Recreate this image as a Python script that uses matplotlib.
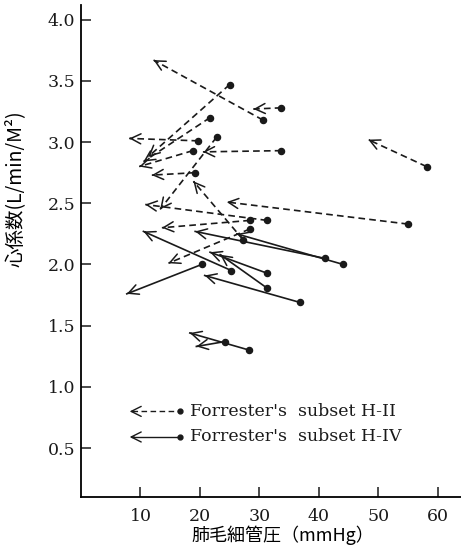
import numpy as np
import matplotlib
matplotlib.use('Agg')
import matplotlib.pyplot as plt
from matplotlib.patches import FancyArrowPatch

plt.rcParams['font.family'] = ['DejaVu Serif']

# Forrester's subset H-II (dashed): start point (dot) -> end point (arrow)
h2_x0 = [30.6, 25.0, 21.7, 18.8, 19.7, 22.8, 33.7, 33.7, 19.2, 58.1, 55.0, 31.3, 28.4, 28.4, 27.3]
h2_y0 = [3.18, 3.47, 3.20, 2.93, 3.01, 3.04, 2.93, 3.28, 2.75, 2.80, 2.33, 2.36, 2.36, 2.29, 2.20]
h2_x1 = [12.2, 11.3, 10.5, 9.8, 8.1, 13.3, 20.5, 29.0, 11.9, 48.3, 24.5, 10.8, 13.6, 14.7, 18.9]
h2_y1 = [3.67, 2.88, 2.84, 2.80, 3.03, 2.45, 2.92, 3.27, 2.73, 3.02, 2.51, 2.49, 2.30, 2.01, 2.68]

# Forrester's subset H-IV (solid)
h4_x0 = [41.0, 44.1, 25.3, 20.3, 31.2, 31.2, 36.8, 28.3, 24.2]
h4_y0 = [2.05, 2.00, 1.95, 2.00, 1.93, 1.81, 1.69, 1.30, 1.37]
h4_x1 = [19.2, 26.2, 10.5, 7.7, 21.7, 23.4, 20.8, 18.3, 19.4]
h4_y1 = [2.27, 2.25, 2.27, 1.76, 2.10, 2.08, 1.91, 1.44, 1.33]

yticks = [0.5, 1.0, 1.5, 2.0, 2.5, 3.0, 3.5, 4.0]
xticks = [10, 20, 30, 40, 50, 60]

fig = plt.figure(figsize=(4.61, 5.51), dpi=100)
ax = fig.add_axes([81/461, 54/551, 380/461, 492/551])
ax.set_xlim(0, 63.9)
ax.set_ylim(0.10, 4.12)

dash = (0, (4, 2.5))


def arrow_head(x0, y0, x1, y1):
    # tiny solid segment at the end so only the open head shows
    xa = x1 + (x0 - x1) * 0.02
    ya = y1 + (y0 - y1) * 0.02
    p = FancyArrowPatch((xa, ya), (x1, y1), arrowstyle='->,head_length=0.6,head_width=0.3',
                        mutation_scale=12, color='#1a1a1a', lw=1.1, shrinkA=0, shrinkB=0)
    ax.add_patch(p)


for x0, y0, x1, y1 in zip(h2_x0, h2_y0, h2_x1, h2_y1):
    ax.plot([x0, x1], [y0, y1], color='#1a1a1a', lw=1.2, linestyle=dash)
    ax.plot(x0, y0, 'o', color='#1a1a1a', ms=4.4)
    arrow_head(x0, y0, x1, y1)

for x0, y0, x1, y1 in zip(h4_x0, h4_y0, h4_x1, h4_y1):
    ax.plot([x0, x1], [y0, y1], color='#1a1a1a', lw=1.2)
    ax.plot(x0, y0, 'o', color='#1a1a1a', ms=4.4)
    arrow_head(x0, y0, x1, y1)

# legend drawn by hand like the original
leg_rows = [(0.174, dash, "Forrester's  subset H-II"), (0.122, '-', "Forrester's  subset H-IV")]
for yy, ls, txt in leg_rows:
    ax.plot([0.135, 0.26], [yy, yy], transform=ax.transAxes, color='#1a1a1a', lw=1.0, linestyle=ls)
    ax.plot(0.26, yy, 'o', transform=ax.transAxes, color='#1a1a1a', ms=3.5)
    ax.add_patch(FancyArrowPatch((0.14, yy), (0.128, yy), transform=ax.transAxes,
                                 arrowstyle='->,head_length=0.6,head_width=0.3', mutation_scale=12,
                                 color='#1a1a1a', lw=1.0, shrinkA=0, shrinkB=0))
    ax.text(0.287, yy, txt, transform=ax.transAxes, fontsize=12.5, family='DejaVu Serif',
            va='center', ha='left', color='#1a1a1a')

ax.spines['top'].set_visible(False)
ax.spines['right'].set_visible(False)
ax.spines['left'].set_linewidth(1.3)
ax.spines['bottom'].set_linewidth(1.3)
ax.set_yticks(yticks)
ax.set_yticklabels(['%.1f' % v for v in yticks])
ax.set_xticks(xticks)
ax.set_xticklabels([str(v) for v in xticks])
ax.tick_params(direction='in', length=7, width=1.1, labelsize=12.5, colors='#1a1a1a')
ax.tick_params(axis='y', pad=4)
ax.tick_params(axis='x', pad=8)

cjk = ['Noto Sans CJK JP', 'DejaVu Sans']
ax.set_xlabel('肺毛細管圧（mmHg）', family=cjk, fontsize=13)
ax.set_ylabel('心係数(L/min/M²)', family=cjk, fontsize=14)
ax.xaxis.set_label_coords(0.53, -0.058)
ax.yaxis.set_label_coords(-0.145, 0.626)

fig.savefig('out.png', dpi=100)
